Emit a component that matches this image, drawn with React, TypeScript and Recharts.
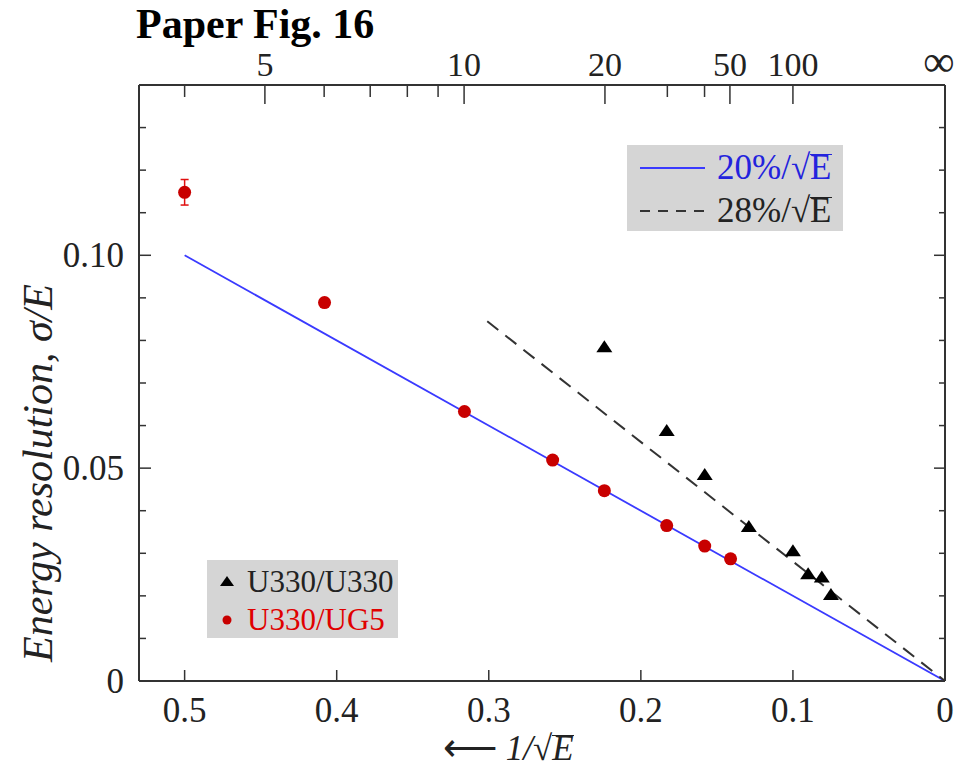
import React from 'react';
import { ComposedChart, Scatter, XAxis, YAxis, ErrorBar } from 'recharts';

// U330/UG5 (red dots)
const ug5X = [0.5, 0.408, 0.316, 0.258, 0.224, 0.183, 0.158, 0.141];
const ug5Y = [0.1148, 0.0889, 0.0633, 0.0519, 0.0447, 0.0365, 0.0317, 0.0287];
const ug5Err = [0.003, 0, 0, 0, 0, 0, 0, 0];

// U330/U330 (black triangles)
const u330X = [0.224, 0.183, 0.158, 0.129, 0.1, 0.09, 0.081, 0.075];
const u330Y = [0.0784, 0.0587, 0.0484, 0.0362, 0.0305, 0.0251, 0.0243, 0.0202];

// fit lines
const fit20X = [0.5, 0];
const fit20Y = [0.1, 0];
const fit28X = [0.301, 0];
const fit28Y = [0.0845, 0];

const bottomTicks = [0, 0.1, 0.2, 0.3, 0.4, 0.5];
const yTicks = [0, 0.01, 0.02, 0.03, 0.04, 0.05, 0.06, 0.07, 0.08, 0.09, 0.1, 0.11, 0.12, 0.13];
const yMajor = [0, 0.05, 0.1];
const yMajorLabels = ['0', '0.05', '0.10'];
const topEnergies = [4, 5, 6, 7, 8, 9, 10, 20, 30, 40, 50, 100];
const topLabelled = [5, 10, 20, 50, 100];

const ug5 = ug5X.map((x, i) => ({ x, y: ug5Y[i], err: ug5Err[i] }));
const u330 = u330X.map((x, i) => ({ x, y: u330Y[i] }));
const fit20 = fit20X.map((x, i) => ({ x, y: fit20Y[i] }));
const fit28 = fit28X.map((x, i) => ({ x, y: fit28Y[i] }));
const topTicks = [...topEnergies.map((e) => 1 / Math.sqrt(e)), 0];

const FONT = '"Liberation Serif", "Times New Roman", serif';
const AXIS = '#333';
const near = (a: number, b: number) => Math.abs(a - b) < 1e-6;

const LeftTick = (p: any) => {
  const v = p.payload.value;
  const idx = yMajor.findIndex((m) => near(m, v));
  const len = idx >= 0 ? 12 : 7;
  return (
    <g>
      <line x1={p.x} x2={p.x + len} y1={p.y} y2={p.y} stroke={AXIS} strokeWidth={1.5} />
      {idx >= 0 && (
        <text x={p.x - 15} y={p.y + 12} textAnchor="end" fontSize={35} fontFamily={FONT} fill="#222">
          {yMajorLabels[idx]}
        </text>
      )}
    </g>
  );
};

const RightTick = (p: any) => {
  const v = p.payload.value;
  const len = yMajor.some((m) => near(m, v)) ? 11 : 6;
  return <line x1={p.x} x2={p.x - len} y1={p.y} y2={p.y} stroke={AXIS} strokeWidth={1.5} />;
};

const BottomTick = (p: any) => {
  const v = p.payload.value;
  return (
    <g>
      <line x1={p.x} x2={p.x} y1={p.y} y2={p.y - 11} stroke={AXIS} strokeWidth={1.5} />
      <text x={p.x} y={p.y + 41} textAnchor="middle" fontSize={35} fontFamily={FONT} fill="#222">
        {v === 0 ? '0' : String(v)}
      </text>
    </g>
  );
};

const TopTick = (p: any) => {
  const v = p.payload.value;
  const e = v === 0 ? 0 : Math.round(1 / (v * v));
  const lab = v === 0 || topLabelled.includes(e);
  const len = lab ? 19 : 12;
  return (
    <g>
      {v !== 0 && <line x1={p.x} x2={p.x} y1={p.y} y2={p.y + len} stroke={AXIS} strokeWidth={1.5} />}
      {lab && (
        <text
          x={v === 0 ? p.x - 6 : p.x}
          y={p.y - 9}
          textAnchor="middle"
          fontSize={v === 0 ? 44 : 34}
          fontFamily={FONT}
          fill="#222"
        >
          {v === 0 ? '∞' : String(e)}
        </text>
      )}
    </g>
  );
};

const RedDot = (p: any) => <circle cx={p.cx} cy={p.cy} r={6.5} fill="#c80000" />;
const Triangle = (p: any) => (
  <polygon points={`${p.cx},${p.cy - 7} ${p.cx - 8},${p.cy + 5} ${p.cx + 8},${p.cy + 5}`} fill="#000" />
);
const NoShape = () => <g />;

const sqrtE = (
  <span>
    √
    <span style={{ display: 'inline-block', borderTop: '1.5px solid currentColor', lineHeight: '0.74em' }}>E</span>
  </span>
);

export default function App() {
  return (
    <div style={{ position: 'absolute', left: 0, top: 0, width: 961, height: 771, background: '#fff', fontFamily: FONT }}>
      <ComposedChart width={961} height={771} margin={{ top: 45, right: 6, bottom: 30, left: 39 }}>
        <XAxis
          xAxisId="bottom"
          dataKey="x"
          type="number"
          domain={[0, 0.53]}
          allowDataOverflow
          reversed
          ticks={bottomTicks}
          interval={0}
          tickLine={false}
          tickSize={0}
          tickMargin={0}
          height={60}
          axisLine={{ stroke: AXIS, strokeWidth: 2 }}
          tick={BottomTick}
        />
        <XAxis
          xAxisId="top"
          orientation="top"
          dataKey="x"
          type="number"
          domain={[0, 0.53]}
          allowDataOverflow
          reversed
          ticks={topTicks}
          interval={0}
          tickLine={false}
          tickSize={0}
          tickMargin={0}
          height={40}
          axisLine={{ stroke: AXIS, strokeWidth: 2 }}
          tick={TopTick}
        />
        <YAxis
          yAxisId="left"
          dataKey="y"
          type="number"
          domain={[0, 0.14]}
          allowDataOverflow
          ticks={yTicks}
          interval={0}
          tickLine={false}
          tickSize={0}
          tickMargin={0}
          width={100}
          axisLine={{ stroke: AXIS, strokeWidth: 2 }}
          tick={LeftTick}
        />
        <YAxis
          yAxisId="right"
          orientation="right"
          dataKey="y"
          type="number"
          domain={[0, 0.14]}
          allowDataOverflow
          ticks={yTicks}
          interval={0}
          tickLine={false}
          tickSize={0}
          tickMargin={0}
          width={10}
          axisLine={{ stroke: AXIS, strokeWidth: 2 }}
          tick={RightTick}
        />
        <Scatter
          xAxisId="bottom"
          yAxisId="left"
          data={fit20}
          line={{ stroke: '#3a3aff', strokeWidth: 1.8 }}
          shape={NoShape}
          isAnimationActive={false}
        />
        <Scatter
          xAxisId="bottom"
          yAxisId="left"
          data={fit28}
          line={{ stroke: '#333', strokeWidth: 2, strokeDasharray: '14 9' }}
          shape={NoShape}
          isAnimationActive={false}
        />
        <Scatter xAxisId="bottom" yAxisId="left" data={u330} shape={Triangle} isAnimationActive={false} />
        <Scatter xAxisId="bottom" yAxisId="left" data={ug5} shape={RedDot} isAnimationActive={false}>
          <ErrorBar dataKey="err" direction="y" width={4} stroke="#e01010" strokeWidth={1.5} />
        </Scatter>
      </ComposedChart>

      {/* title */}
      <div style={{ position: 'absolute', left: 136, top: 3, fontSize: 42, fontWeight: 'bold', lineHeight: '42px' }}>
        Paper Fig. 16
      </div>

      {/* y label */}
      <svg width={961} height={771} style={{ position: 'absolute', left: 0, top: 0, pointerEvents: 'none' }}>
        <text
          transform="translate(52,473) rotate(-90)"
          textAnchor="middle"
          fontSize={42}
          fontStyle="italic"
          fontFamily={FONT}
          fill="#222"
        >
          Energy resolution, σ/E
        </text>
      </svg>

      {/* x label */}
      <div style={{ position: 'absolute', left: 443, top: 730, fontSize: 35, lineHeight: '34px', color: '#222', whiteSpace: 'nowrap' }}>
        <span style={{ fontSize: 38 }}>⟵</span> <i>1/{sqrtE}</i>
      </div>

      {/* fit legend */}
      <div style={{ position: 'absolute', left: 627, top: 145, width: 216, height: 86, background: '#d5d5d5' }}>
        <svg width={80} height={86} style={{ position: 'absolute', left: 0, top: 0 }}>
          <line x1={13} x2={78} y1={23} y2={23} stroke="#3a3aff" strokeWidth={2} />
          <line x1={13} x2={78} y1={66} y2={66} stroke="#333" strokeWidth={2} strokeDasharray="10 8" />
        </svg>
        <div style={{ position: 'absolute', left: 90, top: 2, fontSize: 35, lineHeight: '42px', color: '#2323dd', whiteSpace: 'nowrap' }}>
          20%/{sqrtE}
        </div>
        <div style={{ position: 'absolute', left: 90, top: 45, fontSize: 35, lineHeight: '42px', color: '#222', whiteSpace: 'nowrap' }}>
          28%/{sqrtE}
        </div>
      </div>

      {/* data legend */}
      <div style={{ position: 'absolute', left: 207, top: 560, width: 191, height: 78, background: '#d5d5d5' }}>
        <svg width={40} height={78} style={{ position: 'absolute', left: 0, top: 0 }}>
          <polygon points="20,16 13,26 27,26" fill="#000" />
          <circle cx={20} cy={60} r={4.5} fill="#c80000" />
        </svg>
        <div style={{ position: 'absolute', left: 40, top: 2, fontSize: 31, lineHeight: '40px', color: '#222', whiteSpace: 'nowrap' }}>
          U330/U330
        </div>
        <div style={{ position: 'absolute', left: 40, top: 40, fontSize: 31, lineHeight: '40px', color: '#e00000', whiteSpace: 'nowrap' }}>
          U330/UG5
        </div>
      </div>
    </div>
  );
}
